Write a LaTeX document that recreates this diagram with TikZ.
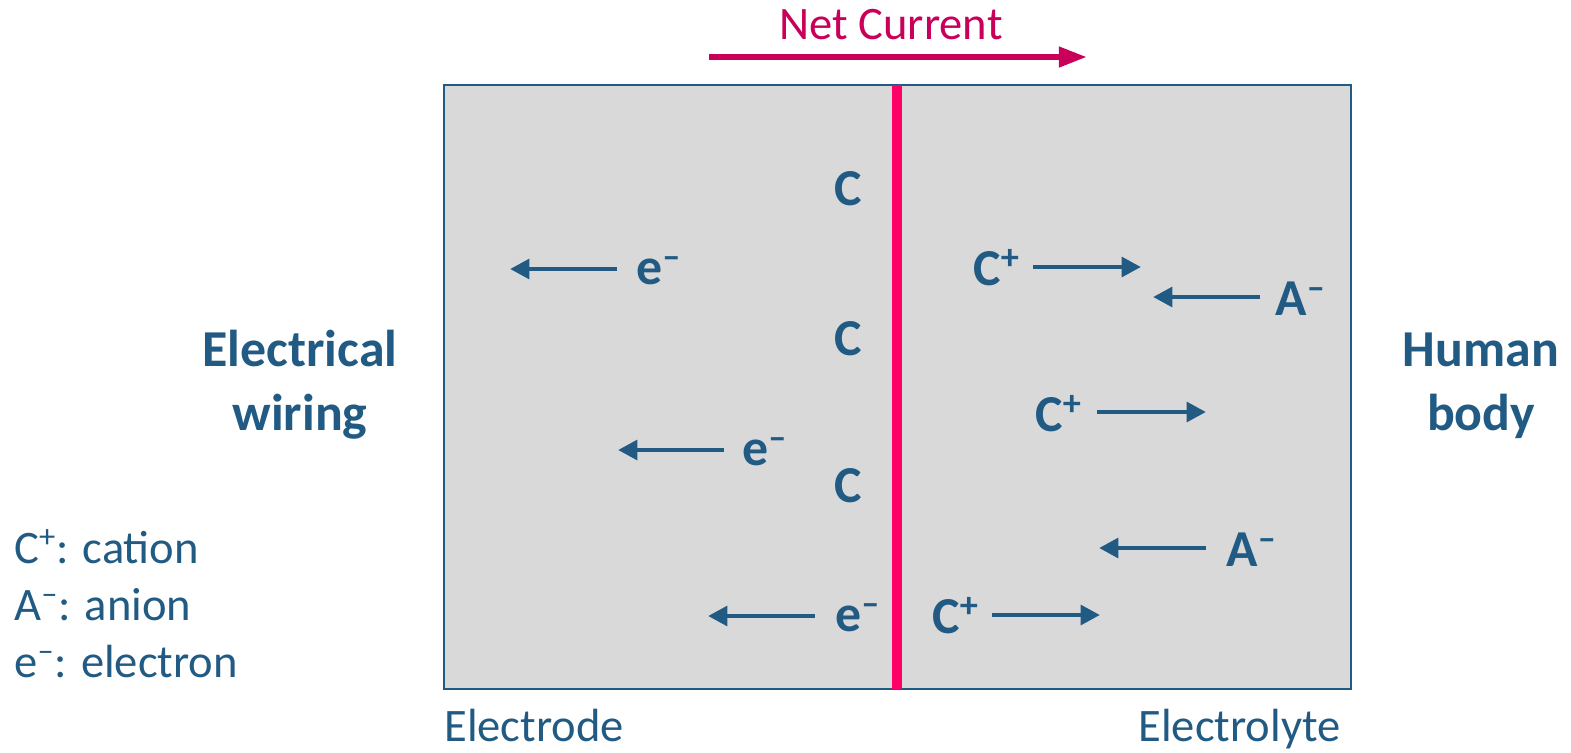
\documentclass[tikz,border=0pt]{standalone}
\usepackage{fontspec}
\setmainfont{Carlito}
\usetikzlibrary{arrows.meta}
\definecolor{txtblue}{HTML}{215B84}
\definecolor{boxgray}{HTML}{D9D9D9}
\definecolor{redline}{HTML}{FF0066}
\definecolor{netred}{HTML}{C8005A}
\tikzset{
  reg/.style={inner sep=0pt, text=txtblue, font=\fontsize{26.5}{32}\selectfont},
  bld/.style={inner sep=0pt, text=txtblue, font=\fontsize{29.5}{36}\selectfont\bfseries},
  flow/.style={draw=txtblue, line width=2.7pt, -{Triangle[length=11pt,width=11pt]}},
}
\begin{document}
\begin{tikzpicture}[x=0.02cm,y=-0.02cm]
\useasboundingbox (0,0) rectangle (1571,752);
% box
\draw[fill=boxgray, draw=txtblue, line width=1.2pt] (444,85) rectangle (1351,689);
\draw[redline, line width=6pt] (897,85) -- (897,689);
% net current
\node[reg, text=netred, anchor=base] (net) at (891,39) {Net Current};
\coordinate (ns) at (709,57);
\coordinate (nt) at (1087,57);
\draw[netred, line width=3.5pt, -{Triangle[length=16pt,width=11pt]}] (ns) -- (nt);
% side labels
\node[bld, anchor=base] (ew1) at (300,366) {Electrical};
\node[bld, anchor=base] (ew2) at (300,430) {wiring};
\node[bld, anchor=base] (hb1) at (1481,366) {Human};
\node[bld, anchor=base] (hb2) at (1481,430) {body};
\node[reg, anchor=base west] (electrode) at (444,741) {Electrode};
\node[reg, anchor=base east] (electrolyte) at (1341,741) {Electrolyte};
% legend
\node[reg, anchor=base west] (l1) at (14,563) {C\textsuperscript{+}: cation};
\node[reg, anchor=base west] (l2) at (14,620) {A\textsuperscript{–}: anion};
\node[reg, anchor=base west] (l3) at (14,677) {e\textsuperscript{–}: electron};
% C atoms
\node[bld, anchor=base west] (c1) at (834,205) {C};
\node[bld, anchor=base west] (c2) at (834,355) {C};
\node[bld, anchor=base west] (c3) at (834,502) {C};
% electrons
\node[bld, anchor=base west] (e1) at (636,284) {e\textsuperscript{–}};
\coordinate (e1s) at (617,269); \coordinate (e1t) at (510,269);
\draw[flow] (e1s) -- (e1t);
\node[bld, anchor=base west] (e2) at (742,465) {e\textsuperscript{–}};
\coordinate (e2s) at (724,450); \coordinate (e2t) at (618,450);
\draw[flow] (e2s) -- (e2t);
\node[bld, anchor=base west] (e3) at (835,631) {e\textsuperscript{–}};
\coordinate (e3s) at (815,616); \coordinate (e3t) at (708,616);
\draw[flow] (e3s) -- (e3t);
% cations
\node[bld, anchor=base west] (cp1) at (973,285) {C\textsuperscript{+}};
\coordinate (cp1s) at (1033,267); \coordinate (cp1t) at (1141,267);
\draw[flow] (cp1s) -- (cp1t);
\node[bld, anchor=base west] (cp2) at (1035,431) {C\textsuperscript{+}};
\coordinate (cp2s) at (1097,412); \coordinate (cp2t) at (1206,412);
\draw[flow] (cp2s) -- (cp2t);
\node[bld, anchor=base west] (cp3) at (932,633) {C\textsuperscript{+}};
\coordinate (cp3s) at (992,615); \coordinate (cp3t) at (1100,615);
\draw[flow] (cp3s) -- (cp3t);
% anions
\node[bld, anchor=base west] (a1) at (1275,315) {A\textsuperscript{–}};
\coordinate (a1s) at (1260,297); \coordinate (a1t) at (1153,297);
\draw[flow] (a1s) -- (a1t);
\node[bld, anchor=base west] (a2) at (1226,566) {A\textsuperscript{–}};
\coordinate (a2s) at (1206,548); \coordinate (a2t) at (1099,548);
\draw[flow] (a2s) -- (a2t);
\end{tikzpicture}
\end{document}
